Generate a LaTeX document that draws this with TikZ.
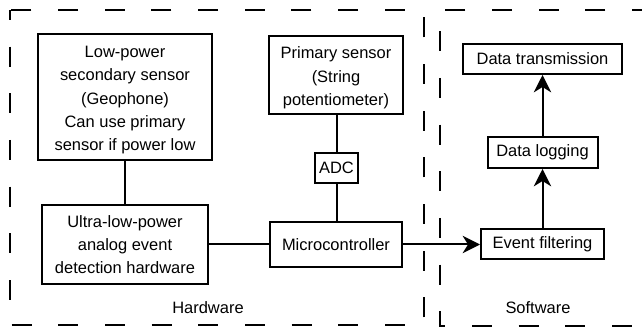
\documentclass[tikz,border=0pt]{standalone}
\usepackage{fontspec}
\setmainfont{Liberation Sans}
\usetikzlibrary{arrows.meta}
\begin{document}
\begin{tikzpicture}[x=0.75pt,y=-0.75pt,
  box/.style={draw,line width=1.5pt,align=center,inner sep=0pt,
    font=\fontsize{12.35}{17.5}\selectfont},
  frame/.style={line width=1.5pt,dash pattern=on 15pt off 20pt},
  link/.style={line width=1.5pt},
  arr/.style={line width=1.5pt,-{Stealth[length=13pt,width=13pt,inset=4pt]}},
  lbl/.style={inner sep=0pt,font=\fontsize{12.35}{15}\selectfont}]
\useasboundingbox (0,0) rectangle (642,331);
% frames
\draw[frame,dash phase=7.5pt] (10,10) rectangle (424,325);
\draw[frame,dash phase=7.5pt] (642,10) -- (440,10) -- (440,326) -- (642,326);
\node[lbl] (hw) at (208,308) {Hardware};
\node[lbl] (sw) at (538,308) {Software};
% boxes
\node[box,minimum width=174*0.75pt,minimum height=126*0.75pt] (low) at (125,97)
  {\rule{0pt}{13.5pt}Low-power\\secondary sensor\\(Geophone)\\Can use primary\\sensor if power low};
\node[box,minimum width=166*0.75pt,minimum height=79*0.75pt] (ultra) at (125,244.5)
  {Ultra-low-power\\analog event\\detection hardware};
\node[box,minimum width=134*0.75pt,minimum height=78*0.75pt] (prim) at (336,75)
  {\rule{0pt}{13.5pt}Primary sensor\\(String\\potentiometer)};
\node[box,minimum width=43*0.75pt,minimum height=30*0.75pt] (adc) at (336.5,168) {ADC};
\node[box,minimum width=132*0.75pt,minimum height=45*0.75pt] (micro) at (336,244.5) {Microcontroller};
\node[box,minimum width=123*0.75pt,minimum height=30*0.75pt] (event) at (542.5,244.5) {Event filtering};
\node[box,minimum width=110*0.75pt,minimum height=31*0.75pt] (log) at (542.5,152.5) {Data logging};
\node[box,minimum width=159*0.75pt,minimum height=30*0.75pt] (trans) at (542.5,59) {Data transmission};
% connectors
\draw[link] (low.south) -- (ultra.north);
\draw[link] (ultra.east) -- (micro.west);
\draw[link] (prim.south -| adc.north) -- (adc.north);
\draw[link] (adc.south) -- (adc.south |- micro.north);
\draw[arr] (micro.east) -- (event.west);
\draw[arr] (event.north) -- (log.south);
\draw[arr] (log.north) -- (trans.south);
\end{tikzpicture}
\end{document}
